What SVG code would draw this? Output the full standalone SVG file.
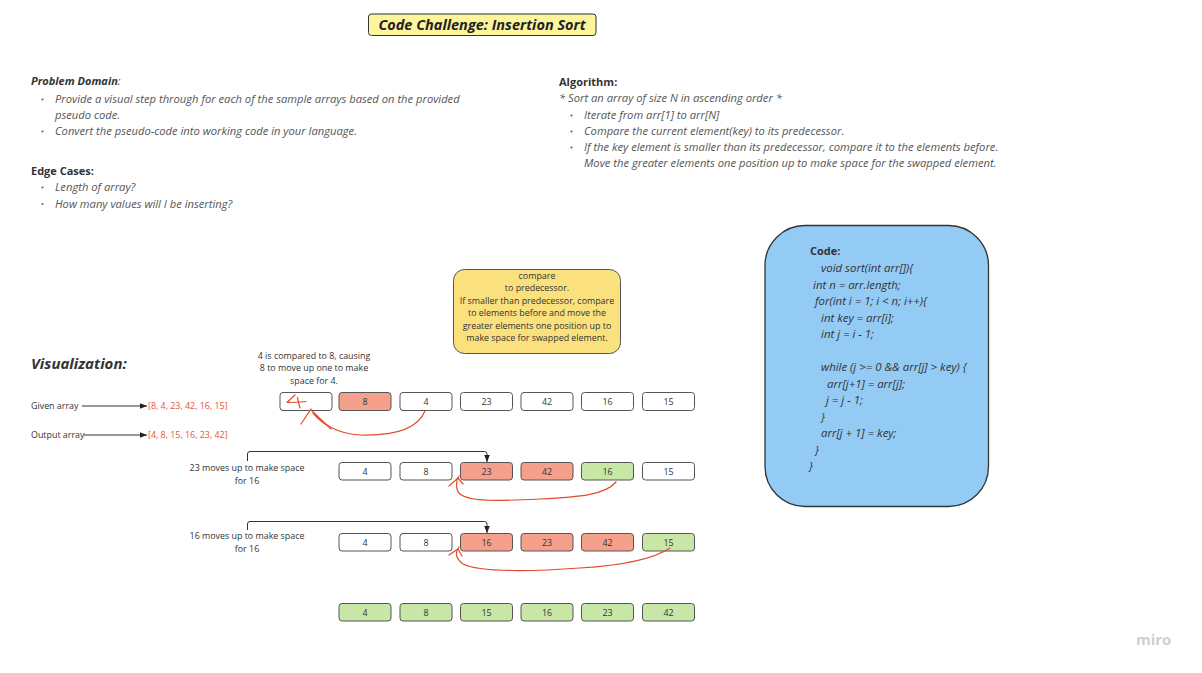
<svg xmlns="http://www.w3.org/2000/svg" width="1202" height="673" viewBox="0 0 1202 673">
<style>
  text { font-family: "Open Sans", "Liberation Sans", sans-serif; }
  .hdr { font-size: 11px; font-weight: bold; fill: #333; }
  .bi { font-style: italic; }
  .it { font-size: 11.2px; font-style: italic; fill: #555; }
  .sm { font-size: 8.9px; fill: #333; }
  .ctr { text-anchor: middle; }
  .red { fill: #e0533d; }
  .code { font-size: 11.4px; font-style: italic; fill: #333; }
  .cell { stroke: #555; stroke-width: 1; }
  .w { fill: #ffffff; }
  .r { fill: #f5a08d; }
  .g { fill: #c8e6a6; }
  .hand { fill: none; stroke: #e04a2e; stroke-width: 1.2; stroke-linecap: round; stroke-linejoin: round; }
  .conn { fill: none; stroke: #333; stroke-width: 1; }
  .dot { fill: #666; }
</style>
<defs>
  <marker id="ah" viewBox="0 0 10 10" refX="10" refY="5" markerWidth="7" markerHeight="7" markerUnits="userSpaceOnUse" orient="auto">
    <path d="M0,1 L10,5 L0,9 Z" fill="#222"/>
  </marker>
</defs>
<rect width="1202" height="673" fill="#ffffff"/>

<g id="title">
  <rect x="368.5" y="14" width="227.5" height="21.5" rx="3" fill="#fdf59c" stroke="#333" stroke-width="1"/>
  <text x="482" y="29.5" class="ctr bi" font-size="14.5" font-weight="bold" fill="#222">Code Challenge: Insertion Sort</text>
</g>

<g id="problem-domain">
  <text x="31" y="85" class="hdr"><tspan class="bi">Problem Domain</tspan><tspan font-weight="normal" font-style="italic">:</tspan></text>
  <circle cx="42.5" cy="99.5" r="1.1" class="dot"/>
  <text x="55" y="103" class="it">Provide a visual step through for each of the sample arrays based on the provided</text>
  <text x="55" y="119" class="it">pseudo code.</text>
  <circle cx="42.5" cy="131.5" r="1.1" class="dot"/>
  <text x="55" y="135" class="it">Convert the pseudo-code into working code in your language.</text>
</g>

<g id="edge-cases">
  <text x="31" y="175" class="hdr">Edge Cases:</text>
  <circle cx="42.5" cy="187.5" r="1.1" class="dot"/>
  <text x="55" y="191" class="it">Length of array?</text>
  <circle cx="42.5" cy="204" r="1.1" class="dot"/>
  <text x="55" y="207.5" class="it">How many values will I be inserting?</text>
</g>

<g id="algorithm">
  <text x="559" y="86" class="hdr">Algorithm:</text>
  <text x="559" y="102" class="it">* Sort an array of size N in ascending order *</text>
  <circle cx="571.5" cy="115.5" r="1.1" class="dot"/>
  <text x="584" y="119" class="it">Iterate from arr[1] to arr[N]</text>
  <circle cx="571.5" cy="131.5" r="1.1" class="dot"/>
  <text x="584" y="135" class="it">Compare the current element(key) to its predecessor.</text>
  <circle cx="571.5" cy="147.5" r="1.1" class="dot"/>
  <text x="584" y="151" class="it">If the key element is smaller than its predecessor, compare it to the elements before.</text>
  <text x="584" y="167" class="it">Move the greater elements one position up to make space for the swapped element.</text>
</g>

<g id="code-box">
  <rect x="765" y="225.5" width="223.5" height="281" rx="40" fill="#93cbf5" stroke="#333" stroke-width="1.3"/>
  <text x="810" y="255" class="hdr" font-size="11.2">Code:</text>
  <text x="821" y="272" class="code">void sort(int arr[]){</text>
  <text x="813" y="288.5" class="code">int n = arr.length;</text>
  <text x="815" y="305" class="code">for(int i = 1; i &lt; n; i++){</text>
  <text x="821" y="321.5" class="code">int key = arr[i];</text>
  <text x="821" y="338" class="code">int j = i - 1;</text>
  <text x="821" y="371" class="code">while (j &gt;= 0 &amp;&amp; arr[j] &gt; key) {</text>
  <text x="827" y="387.5" class="code">arr[j+1] = arr[j];</text>
  <text x="826" y="404" class="code">j = j - 1;</text>
  <text x="821" y="420.5" class="code">}</text>
  <text x="821" y="437" class="code">arr[j + 1] = key;</text>
  <text x="815" y="453.5" class="code">}</text>
  <text x="809" y="470" class="code">}</text>
</g>

<g id="note">
  <rect x="453.5" y="269.5" width="167" height="84" rx="11" fill="#fbe07e" stroke="#555" stroke-width="1"/>
  <text x="537" y="278.5" class="sm ctr">compare</text>
  <text x="537" y="291" class="sm ctr">to predecessor.</text>
  <text x="537" y="303.5" class="sm ctr">If smaller than predecessor, compare</text>
  <text x="537" y="316" class="sm ctr">to elements before and move the</text>
  <text x="537" y="328.5" class="sm ctr">greater elements one position up to</text>
  <text x="537" y="341" class="sm ctr">make space for swapped element.</text>
</g>

<g id="visualization">
  <text x="31" y="369" class="bi" font-size="15" font-weight="bold" fill="#333">Visualization:</text>
  <text x="31" y="409" class="sm">Given array</text>
  <text x="148" y="409" class="sm red">[8, 4, 23, 42, 16, 15]</text>
  <text x="31" y="438" class="sm">Output array</text>
  <text x="148" y="438" class="sm red">[4, 8, 15, 16, 23, 42]</text>
</g>

<g id="label-step1">
  <text x="314" y="358.5" class="sm ctr">4 is compared to 8, causing</text>
  <text x="314" y="371" class="sm ctr">8 to move up one to make</text>
  <text x="314" y="383.5" class="sm ctr">space for 4.</text>
</g>
<g id="label-step2">
  <text x="247" y="471" class="sm ctr">23 moves up to make space</text>
  <text x="247" y="483.5" class="sm ctr">for 16</text>
</g>
<g id="label-step3">
  <text x="247" y="539" class="sm ctr">16 moves up to make space</text>
  <text x="247" y="551.5" class="sm ctr">for 16</text>
</g>

<!-- Row 1 -->
<g id="r1c1"><rect x="280" y="392.5" width="52" height="18" rx="3" class="cell w"/></g>
<g id="r1c2"><rect x="339" y="392.5" width="52" height="18" rx="3" class="cell r"/><text x="365" y="404.5" class="sm ctr">8</text></g>
<g id="r1c3"><rect x="400" y="392.5" width="52" height="18" rx="3" class="cell w"/><text x="426" y="404.5" class="sm ctr">4</text></g>
<g id="r1c4"><rect x="460.5" y="392.5" width="52" height="18" rx="3" class="cell w"/><text x="486.5" y="404.5" class="sm ctr">23</text></g>
<g id="r1c5"><rect x="521" y="392.5" width="52" height="18" rx="3" class="cell w"/><text x="547" y="404.5" class="sm ctr">42</text></g>
<g id="r1c6"><rect x="581.5" y="392.5" width="52" height="18" rx="3" class="cell w"/><text x="607.5" y="404.5" class="sm ctr">16</text></g>
<g id="r1c7"><rect x="642.5" y="392.5" width="52" height="18" rx="3" class="cell w"/><text x="668.5" y="404.5" class="sm ctr">15</text></g>

<!-- Row 2 -->
<g id="r2c1"><rect x="339" y="462.5" width="52" height="17.5" rx="3" class="cell w"/><text x="365" y="474.5" class="sm ctr">4</text></g>
<g id="r2c2"><rect x="400" y="462.5" width="52" height="17.5" rx="3" class="cell w"/><text x="426" y="474.5" class="sm ctr">8</text></g>
<g id="r2c3"><rect x="460.5" y="462.5" width="52" height="17.5" rx="3" class="cell r"/><text x="486.5" y="474.5" class="sm ctr">23</text></g>
<g id="r2c4"><rect x="521" y="462.5" width="52" height="17.5" rx="3" class="cell r"/><text x="547" y="474.5" class="sm ctr">42</text></g>
<g id="r2c5"><rect x="581.5" y="462.5" width="52" height="17.5" rx="3" class="cell g"/><text x="607.5" y="474.5" class="sm ctr">16</text></g>
<g id="r2c6"><rect x="642.5" y="462.5" width="52" height="17.5" rx="3" class="cell w"/><text x="668.5" y="474.5" class="sm ctr">15</text></g>

<!-- Row 3 -->
<g id="r3c1"><rect x="339" y="533.5" width="52" height="17.5" rx="3" class="cell w"/><text x="365" y="545.5" class="sm ctr">4</text></g>
<g id="r3c2"><rect x="400" y="533.5" width="52" height="17.5" rx="3" class="cell w"/><text x="426" y="545.5" class="sm ctr">8</text></g>
<g id="r3c3"><rect x="460.5" y="533.5" width="52" height="17.5" rx="3" class="cell r"/><text x="486.5" y="545.5" class="sm ctr">16</text></g>
<g id="r3c4"><rect x="521" y="533.5" width="52" height="17.5" rx="3" class="cell r"/><text x="547" y="545.5" class="sm ctr">23</text></g>
<g id="r3c5"><rect x="581.5" y="533.5" width="52" height="17.5" rx="3" class="cell r"/><text x="607.5" y="545.5" class="sm ctr">42</text></g>
<g id="r3c6"><rect x="642.5" y="533.5" width="52" height="17.5" rx="3" class="cell g"/><text x="668.5" y="545.5" class="sm ctr">15</text></g>

<!-- Row 4 -->
<g id="r4c1"><rect x="339" y="603.5" width="52" height="17.5" rx="3" class="cell g"/><text x="365" y="615.5" class="sm ctr">4</text></g>
<g id="r4c2"><rect x="400" y="603.5" width="52" height="17.5" rx="3" class="cell g"/><text x="426" y="615.5" class="sm ctr">8</text></g>
<g id="r4c3"><rect x="460.5" y="603.5" width="52" height="17.5" rx="3" class="cell g"/><text x="486.5" y="615.5" class="sm ctr">15</text></g>
<g id="r4c4"><rect x="521" y="603.5" width="52" height="17.5" rx="3" class="cell g"/><text x="547" y="615.5" class="sm ctr">16</text></g>
<g id="r4c5"><rect x="581.5" y="603.5" width="52" height="17.5" rx="3" class="cell g"/><text x="607.5" y="615.5" class="sm ctr">23</text></g>
<g id="r4c6"><rect x="642.5" y="603.5" width="52" height="17.5" rx="3" class="cell g"/><text x="668.5" y="615.5" class="sm ctr">42</text></g>

<g id="connectors">
  <path class="conn" d="M82,406 H147" marker-end="url(#ah)"/>
  <path class="conn" d="M84,435 H147" marker-end="url(#ah)"/>
  <path class="conn" d="M247.5,461 V454 Q247.5,451.5 250,451.5 H484.5 Q487,451.5 487,454 V462" marker-end="url(#ah)"/>
  <path class="conn" d="M247.5,530 V524 Q247.5,521.5 250,521.5 H484.5 Q487,521.5 487,524 V533" marker-end="url(#ah)"/>
</g>

<g id="handwriting">
  <!-- drawn "4" in the first box -->
  <path class="hand" d="M295,395 L287,402.5 Q296,402.5 306,401.5"/>
  <path class="hand" d="M297.5,397.5 Q298.5,403 300,408"/>
  <!-- step 1 curve -->
  <path class="hand" d="M425,411 C418,428 395,436 360,435 C338,434 322,424 313,413"/>
  <path class="hand" d="M311,409 L301,424"/>
  <path class="hand" d="M311,410 L331,429"/>
  <!-- step 2 curve -->
  <path class="hand" d="M616,482 C605,495 580,497 540,499 C500,501 470,502 460,494 C455,489 456,480 459,476"/>
  <path class="hand" d="M458,478 L449,486"/>
  <path class="hand" d="M458,478 L463,484"/>
  <!-- step 3 curve -->
  <path class="hand" d="M670,548 C655,558 630,565 580,568 C540,571 480,573 463,564 C455,558 455,552 459,547"/>
  <path class="hand" d="M458,549 L449,555"/>
  <path class="hand" d="M458,549 L462,556"/>
</g>

<g id="watermark">
  <text x="1136" y="645" font-size="15" font-weight="bold" fill="#cfcfd4" font-family="'Open Sans', sans-serif">miro</text>
</g>
</svg>
